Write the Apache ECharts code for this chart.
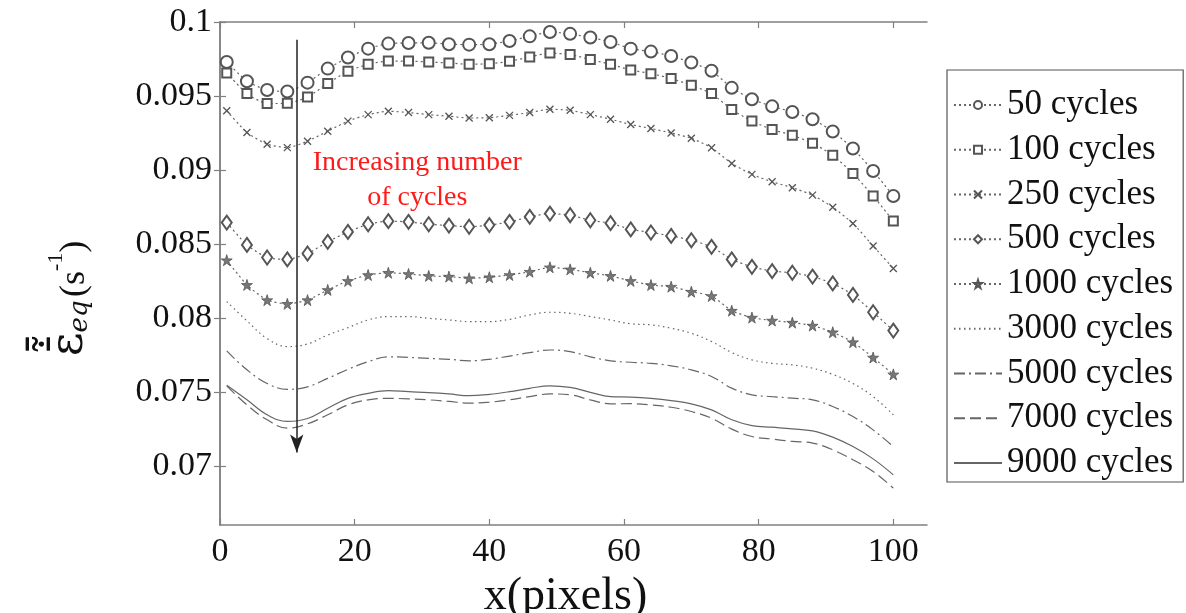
<!DOCTYPE html>
<html><head><meta charset="utf-8">
<script src="https://cdn.jsdelivr.net/npm/echarts@6/dist/echarts.min.js"></script>
<style>html,body{margin:0;padding:0;background:#fff}#c{width:1186px;height:613px}</style>
</head><body><div id="c"></div>
<script>
const xs = [1,4,7,10,13,16,19,22,25,28,31,34,37,40,43,46,49,52,55,58,61,64,67,70,73,76,79,82,85,88,91,94,97,100];
const c50 = [0.0973,0.0960,0.0954,0.0953,0.0959,0.09685,0.0976,0.0982,0.09854,0.09858,0.0986,0.0985,0.09847,0.0985,0.09872,0.09903,0.09932,0.0992,0.09895,0.09865,0.0982,0.0980,0.0977,0.09726,0.0967,0.09555,0.09478,0.0943,0.09392,0.09343,0.0926,0.09145,0.08993,0.08824];
const c100 = [0.09655,0.09516,0.09449,0.0945,0.09493,0.09584,0.09667,0.09714,0.09736,0.09736,0.0973,0.09723,0.09714,0.09718,0.09734,0.09764,0.0979,0.0978,0.09746,0.09714,0.09676,0.09651,0.09618,0.09572,0.09516,0.09408,0.0933,0.09273,0.09235,0.0918,0.091,0.08976,0.08824,0.08655];
const c250 = [0.094,0.09253,0.09174,0.09151,0.09194,0.09262,0.0933,0.09374,0.09397,0.09388,0.09374,0.09363,0.09351,0.09353,0.09369,0.09388,0.0941,0.09403,0.09374,0.09343,0.09307,0.0928,0.0925,0.09214,0.0915,0.09044,0.0897,0.0892,0.0888,0.0883,0.08748,0.08638,0.08486,0.08334];
const c500 = [0.08644,0.08493,0.08408,0.08395,0.08435,0.08514,0.08581,0.08633,0.08654,0.08649,0.08633,0.08624,0.08616,0.08627,0.08649,0.08683,0.08705,0.08694,0.0866,0.0864,0.08598,0.08577,0.08554,0.08525,0.0848,0.08395,0.08345,0.08316,0.08305,0.08279,0.08233,0.08155,0.08038,0.07914];
const c1000 = [0.0839,0.08223,0.0812,0.08095,0.0812,0.08189,0.0825,0.0829,0.08305,0.08297,0.08284,0.08279,0.08268,0.08275,0.0829,0.08312,0.08342,0.08328,0.08305,0.08284,0.0825,0.08222,0.08211,0.08177,0.08148,0.08049,0.08002,0.07982,0.07968,0.07948,0.07903,0.07836,0.07732,0.07618];
const c3000 = [0.0811,0.0798,0.0786,0.07806,0.07824,0.07884,0.07934,0.07986,0.08009,0.08009,0.07997,0.07986,0.07975,0.07975,0.0799,0.0802,0.08038,0.08031,0.08009,0.07986,0.0796,0.07953,0.0793,0.07896,0.0784,0.07766,0.07716,0.07693,0.07682,0.0766,0.07618,0.07557,0.07468,0.07345];
const c5000 = [0.07777,0.07649,0.07557,0.07517,0.07534,0.07591,0.07652,0.07704,0.07737,0.07733,0.07726,0.0772,0.0771,0.0772,0.07742,0.07765,0.07783,0.07772,0.07737,0.0771,0.077,0.07693,0.07676,0.07649,0.07604,0.07525,0.0748,0.07468,0.07457,0.07446,0.07401,0.07333,0.07243,0.0713];
const c7000 = [0.0754,0.07412,0.07311,0.07255,0.07284,0.07345,0.07412,0.07446,0.07456,0.07453,0.07446,0.07435,0.07424,0.0743,0.07446,0.07468,0.07486,0.0748,0.07446,0.07419,0.0742,0.07412,0.07396,0.07367,0.07322,0.07248,0.07198,0.07181,0.07165,0.07154,0.07108,0.07041,0.06962,0.06849];
const c9000 = [0.07545,0.07446,0.07345,0.073,0.0732,0.07389,0.07456,0.0749,0.07508,0.07501,0.07495,0.07486,0.07474,0.07483,0.07501,0.07524,0.07541,0.0753,0.07497,0.07468,0.07465,0.07456,0.07441,0.07419,0.07378,0.07311,0.07272,0.07261,0.0725,0.07236,0.07194,0.0713,0.07047,0.06939];
const seriesNames = ['50 cycles','100 cycles','250 cycles','500 cycles','1000 cycles','3000 cycles','5000 cycles','7000 cycles','9000 cycles'];
const xTicks = [0,20,40,60,80,100];
const yTicks = [0.07,0.075,0.08,0.085,0.09,0.095,0.1];
const arrowX = [11.4];
const arrowY = [0.0988, 0.0709];
const notePos = [29.3, 0.0893];
const noteText = ['Increasing number','of cycles'];

const serif = 'Liberation Serif, Times New Roman, serif';
const gray = '#666';
const mk = '#555';
const starPath = 'path://M50,0L61,35L98,35L68,57L79,91L50,70L21,91L32,57L2,35L39,35Z';
const xPath = 'path://M0,0L10,10M10,0L0,10';
const styles = [
  {symbol:'emptyCircle', symbolSize:12, line:[2,3], border:1.2, color:mk},
  {symbol:'emptyRect', symbolSize:9, line:[2,3], border:1.5, color:mk},
  {symbol:xPath, symbolSize:7, line:[2,3], border:1.3, color:mk},
  {symbol:'emptyDiamond', symbolSize:[10,14], line:[2,3], border:1.2, color:mk},
  {symbol:starPath, symbolSize:11, line:[2,3], border:0.8, color:'#777'},
  {symbol:'none', line:[1.5,3.5]},
  {symbol:'none', line:[11,4,2,4]},
  {symbol:'none', line:[11,5]},
  {symbol:'none', line:'solid'}
];
const dataSets = [c50,c100,c250,c500,c1000,c3000,c5000,c7000,c9000];

const series = dataSets.map((d,i)=>{
  const s = styles[i];
  return {
    name: seriesNames[i], type:'line',
    data: xs.map((x,k)=>[x,d[k]]),
    symbol: s.symbol, symbolSize: s.symbolSize || 0, showSymbol: s.symbol!=='none',
    smooth: i>=5 ? 0.4 : 0.2,
    lineStyle:{color:gray, width:1.2, type:s.line},
    itemStyle:{color: s.color || gray, borderColor:mk, borderWidth:s.border||1},
    emphasis:{disabled:true},
    animation:false, z: 3
  };
});
series[8].markLine = {
  silent:true, symbol:['none','arrow'], symbolSize:[10,18],
  lineStyle:{color:'#222', width:1.5, type:'solid'},
  label:{show:false}, animation:false,
  data:[[{coord:[arrowX[0],arrowY[0]]},{coord:[arrowX[0],arrowY[1]]}]]
};
series[8].markPoint = {
  silent:true, symbol:'circle', symbolSize:1, animation:false,
  itemStyle:{color:'rgba(0,0,0,0)', borderWidth:0},
  label:{show:true, position:'inside', formatter: noteText.join('\n'), color:'#ff1a1a', fontFamily:serif, fontSize:28, lineHeight:35, align:'center'},
  data:[{coord:notePos}]
};

const legendData = seriesNames.map((n,i)=> i<5 ? {name:n} : {name:n, itemStyle:{color:'rgba(0,0,0,0)', borderWidth:0, opacity:0}});

const axisLineC = '#808080';
const chart = echarts.init(document.getElementById('c'));
chart.setOption({
  backgroundColor:'#fff',
  animation:false,
  grid:{left:220, top:22, right:259, bottom:88, outerBoundsMode:'none', containLabel:false},
  legend:{
    orient:'vertical', left:947, top:70,
    data: legendData,
    itemWidth:48, itemHeight:10, itemGap:8.75,
    padding:[17,10,1,6],
    borderColor:'#555', borderWidth:1.2,
    textStyle:{fontFamily:serif, fontSize:35, color:'#111', lineHeight:36},
    selectedMode:false
  },
  xAxis:[{
    type:'value', min:0, max:105, position:'bottom',
    name:'x(pixels)', nameLocation:'middle', nameGap:38,
    nameTextStyle:{fontFamily:serif, fontSize:46, color:'#111', padding:[0,16,0,0]},
    axisLine:{show:true, lineStyle:{color:axisLineC, width:1.5}},
    axisTick:{show:true, inside:true, length:6, customValues:xTicks, lineStyle:{color:axisLineC, width:1.2}},
    axisLabel:{customValues:xTicks, fontFamily:serif, fontSize:34, color:'#111', margin:10},
    splitLine:{show:false}
  },{
    type:'value', min:0, max:105, position:'top',
    axisLine:{show:true, lineStyle:{color:axisLineC, width:1.5}},
    axisTick:{show:true, inside:true, length:6, customValues:xTicks, lineStyle:{color:axisLineC, width:1.2}},
    axisLabel:{show:false}, splitLine:{show:false}
  }],
  yAxis:[{
    type:'value', min:0.066, max:0.1, position:'left',
    name:'{e|ε\u0304\u0307\u0303\u0304}{sub|eq} {p|(s}{sup|-1}{p|)}',
    nameLocation:'middle', nameRotate:90, nameGap:127,
    nameTextStyle:{
      padding:[0,50,0,0],
      rich:{
        e:{fontFamily:'DejaVu Serif', fontSize:46, color:'#111', verticalAlign:'bottom', lineHeight:60},
        sub:{fontFamily:'DejaVu Serif', fontStyle:'italic', fontSize:26, color:'#111', verticalAlign:'bottom', lineHeight:26},
        p:{fontFamily:serif, fontSize:36, color:'#111', verticalAlign:'bottom', lineHeight:54},
        sup:{fontFamily:serif, fontSize:22, color:'#111', verticalAlign:'bottom', lineHeight:22, padding:[0,0,26,0]}
      }
    },
    axisLine:{show:true, lineStyle:{color:axisLineC, width:1.5}},
    axisTick:{show:true, inside:true, length:6, customValues:yTicks, lineStyle:{color:axisLineC, width:1.2}},
    axisLabel:{customValues:yTicks, fontFamily:serif, fontSize:34, color:'#111', margin:8},
    splitLine:{show:false}
  },{
    type:'value', min:0.066, max:0.1, position:'right',
    axisLine:{show:true, lineStyle:{color:axisLineC, width:1.5}},
    axisTick:{show:true, inside:true, length:6, customValues:yTicks, lineStyle:{color:axisLineC, width:1.2}},
    axisLabel:{show:false}, splitLine:{show:false}
  }],
  series: series
});
</script></body></html>
